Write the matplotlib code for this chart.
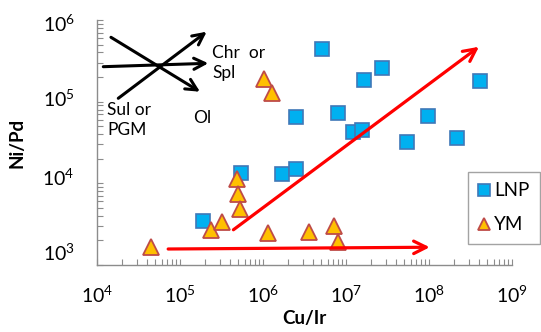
import numpy as np
from matplotlib import pyplot as plt
from matplotlib.transforms import ScaledTranslation

plt.rcParams['font.family'] = ['Lato', 'DejaVu Sans']
plt.rcParams['mathtext.fontset'] = 'custom'
plt.rcParams['mathtext.rm'] = 'Lato'
plt.rcParams['mathtext.it'] = 'Lato:italic'
plt.rcParams['mathtext.bf'] = 'Lato:bold'

# LNP samples (Cu/Ir, Ni/Pd)
lnp_cu_ir = [5.1e6, 2.7e7, 1.65e7, 4.1e8, 2.5e6, 7.9e6, 9.7e7, 1.2e7, 1.55e7,
             5.4e7, 2.15e8, 1.7e6, 2.5e6, 5.5e5, 1.9e5]
lnp_ni_pd = [4.4e5, 2.6e5, 1.84e5, 1.8e5, 6.4e4, 7.2e4, 6.7e4, 4.3e4, 4.5e4,
             3.2e4, 3.6e4, 1.3e4, 1.5e4, 1.35e4, 3.5e3]

# YM samples
ym_cu_ir = [4.5e4, 2.35e5, 3.2e5, 4.8e5, 5.0e5, 5.3e5, 1.04e6, 1.27e6, 1.16e6,
            3.6e6, 7.2e6, 8.1e6]
ym_ni_pd = [1.67e3, 2.7e3, 3.4e3, 1.12e4, 7.5e3, 4.9e3, 1.87e5, 1.26e5, 2.45e3,
            2.55e3, 3.0e3, 1.93e3]

# trend arrows (start, end)
trend_up = [(4.4e5, 2.7e3), (4.0e8, 4.7e5)]
trend_flat = [(7.2e4, 1.57e3), (1.02e8, 1.65e3)]

fig = plt.figure(figsize=(5.41, 3.32), dpi=100)
ax = fig.add_axes([97/541, 67/332, 415/541, 245/332])
ax.set_xscale('log')
ax.set_yscale('log')
ax.set_xlim(1e4, 1e9)
ax.set_ylim(1e3, 1e6)

ax.plot(lnp_cu_ir, lnp_ni_pd, 's', ms=10.5, mfc='#00b0f0', mec='#3f78b8',
        mew=1.2, ls='none', label='LNP', zorder=3)
ax.plot(ym_cu_ir, ym_ni_pd, '^', ms=11, mfc='#ffc000', mec='#be4b48',
        mew=1.3, ls='none', label='YM', zorder=4)

for start, end in (trend_up, trend_flat):
    ax.annotate('', xy=end, xytext=start,
                arrowprops=dict(arrowstyle='->,head_length=0.9,head_width=0.45',
                                color='red', lw=2.3, shrinkA=0, shrinkB=0),
                zorder=5)

# mineral control arrows (axes fraction)
black_arrows = [((0.0513, 0.6804), (0.2643, 0.9522)),
                ((0.0152, 0.8094), (0.2682, 0.8233)),
                ((0.0337, 0.9294), (0.2482, 0.7073))]
for start, end in black_arrows:
    ax.annotate('', xy=end, xytext=start, xycoords='axes fraction',
                textcoords='axes fraction',
                arrowprops=dict(arrowstyle='->,head_length=0.8,head_width=0.4',
                                color='black', lw=2.2, shrinkA=0, shrinkB=0))

ax.text(0.277, 0.8245, 'Chr  or\nSpl', transform=ax.transAxes, fontsize=12.5,
        va='center', ha='left', linespacing=1.25)
ax.text(0.024, 0.592, 'Sul or\nPGM', transform=ax.transAxes, fontsize=12.5,
        va='center', ha='left', linespacing=1.25)
ax.text(0.231, 0.60, 'Ol', transform=ax.transAxes, fontsize=12.5,
        va='center', ha='left')

for s in ['top', 'right']:
    ax.spines[s].set_visible(False)
for s in ['left', 'bottom']:
    ax.spines[s].set_color('#8c8c8c')
    ax.spines[s].set_linewidth(1.0)

ax.set_xticks([1e4, 1e5, 1e6, 1e7, 1e8, 1e9])
ax.set_xticklabels([r'$10^{%d}$' % i for i in range(4, 10)])
ax.set_yticks([1e3, 1e4, 1e5, 1e6])
ax.set_yticklabels([r'$10^{%d}$' % i for i in range(3, 7)])
ax.tick_params(which='both', direction='in', length=4, color='#8c8c8c',
               width=0.8, labelsize=14)
ax.tick_params(axis='x', which='major', pad=14)
ax.tick_params(axis='y', which='major', pad=16)
ax.tick_params(which='minor', labelleft=False, labelbottom=False)

# the y labels in the original sit a little above their ticks
for lab, dy in zip(ax.get_yticklabels(), [13, 7, 4, -3]):
    lab.set_transform(lab.get_transform() +
                      ScaledTranslation(0, dy / 100, fig.dpi_scale_trans))

ax.set_xlabel('Cu/Ir', fontsize=13.5, fontweight='bold', labelpad=3)
ax.set_ylabel('Ni/Pd', fontsize=13.5, fontweight='bold', labelpad=12)

leg = ax.legend(loc='upper right', bbox_to_anchor=(540/541, 1 - 172/332),
                bbox_transform=fig.transFigure, fontsize=13.5, fancybox=False,
                edgecolor='#8c8c8c', handlelength=0.6, handletextpad=0.25,
                labelspacing=0.9, borderpad=0.55, markerscale=0.8,
                borderaxespad=0)
leg.get_frame().set_linewidth(1.0)

fig.savefig('out.png', dpi=100)
